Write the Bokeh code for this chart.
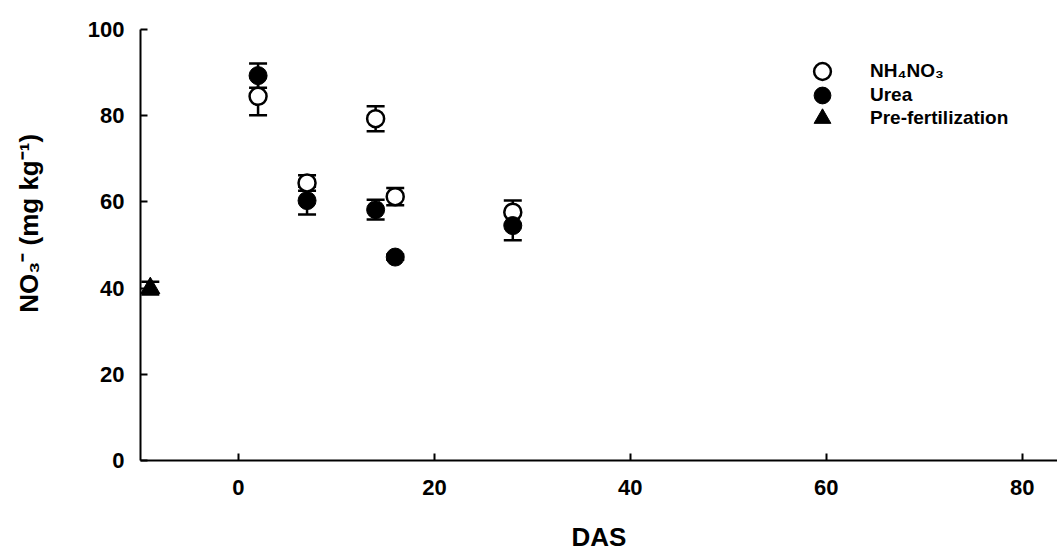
from bokeh.plotting import figure
from bokeh.models import ColumnDataSource, Whisker, FixedTicker, Range1d, Legend, LegendItem, TeeHead
from bokeh.embed import file_html
from bokeh.resources import INLINE

# ---- data ----
das = [2, 7, 14, 16, 28]
nh4no3 = [84.5, 64.4, 79.3, 61.2, 57.6]
nh4no3_err = [4.4, 1.8, 2.9, 2.0, 2.7]
urea = [89.3, 60.3, 58.2, 47.2, 54.5]
urea_err = [2.8, 3.2, 2.3, 0.6, 3.4]
pre_das = [-9]
pre = [40.0]
pre_err = [1.5]

x_ticks = [0, 20, 40, 60, 80]
y_ticks = [0, 20, 40, 60, 80, 100]

FONT = "Liberation Sans"

def src(x, y, e):
    return ColumnDataSource(dict(x=x, y=y, lo=[a - b for a, b in zip(y, e)], hi=[a + b for a, b in zip(y, e)]))

s_nh = src(das, nh4no3, nh4no3_err)
s_ur = src(das, urea, urea_err)
s_pre = src(pre_das, pre, pre_err)

p = figure(width=1057, height=554, output_backend="svg", toolbar_location=None,
           x_range=Range1d(-10, 83.6), y_range=Range1d(0, 100),
           min_border_left=140, min_border_top=29, min_border_right=0, min_border_bottom=93)
p.outline_line_color = None
p.grid.visible = False
p.background_fill_color = "white"
p.border_fill_color = "white"

for ax in (p.xaxis[0], p.yaxis[0]):
    ax.axis_line_width = 2
    ax.axis_line_color = "black"
    ax.major_tick_line_width = 2
    ax.major_tick_line_color = "black"
    ax.major_tick_in = 7
    ax.major_tick_out = 0
    ax.minor_tick_line_color = None
    ax.major_label_text_font = FONT
    ax.major_label_text_font_style = "bold"
    ax.major_label_text_font_size = "22px"
    ax.major_label_text_color = "black"
    ax.axis_label_text_font = FONT
    ax.axis_label_text_font_style = "bold"
    ax.axis_label_text_font_size = "26px"
    ax.axis_label_text_color = "black"

p.xaxis.ticker = FixedTicker(ticks=x_ticks)
p.yaxis.ticker = FixedTicker(ticks=y_ticks)
p.xaxis.axis_label = "DAS"
p.yaxis.axis_label = "\u00a0" * 6 + "NO\u2083\u207b (mg kg\u207b\u00b9)"
p.xaxis.major_label_standoff = 19
p.xaxis.axis_label_standoff = 24
p.yaxis.major_label_standoff = 16
p.yaxis.axis_label_standoff = 41

for s in (s_nh, s_ur, s_pre):
    w = Whisker(source=s, base="x", upper="hi", lower="lo", line_width=2.5, line_color="black",
                upper_head=TeeHead(size=18, line_width=2.5, line_color="black"),
                lower_head=TeeHead(size=18, line_width=2.5, line_color="black"))
    p.add_layout(w)

r_nh = p.scatter("x", "y", source=s_nh, marker="circle", size=17, fill_color="white",
                 line_color="black", line_width=2.5)
r_ur = p.scatter("x", "y", source=s_ur, marker="circle", size=18, fill_color="black",
                 line_color="black", line_width=1)
r_pre = p.scatter("x", "y", source=s_pre, marker="triangle", size=19, fill_color="black",
                  line_color="black", line_width=1)

legend_entries = [("NH\u2084NO\u2083", r_nh, 368), ("Urea", r_ur, 344), ("Pre-fertilization", r_pre, 321)]
for label, rend, ypos in legend_entries:
    lg = Legend(items=[LegendItem(label=label, renderers=[rend])],
                location=(661, ypos), padding=0, margin=0, border_line_color=None,
                background_fill_alpha=0, glyph_width=42, glyph_height=42, label_height=22,
                spacing=0, label_standoff=27,
                label_text_font=FONT, label_text_font_style="bold", label_text_font_size="19px",
                label_text_color="black")
    p.add_layout(lg)

open("out.html", "w").write(file_html(p, INLINE))
